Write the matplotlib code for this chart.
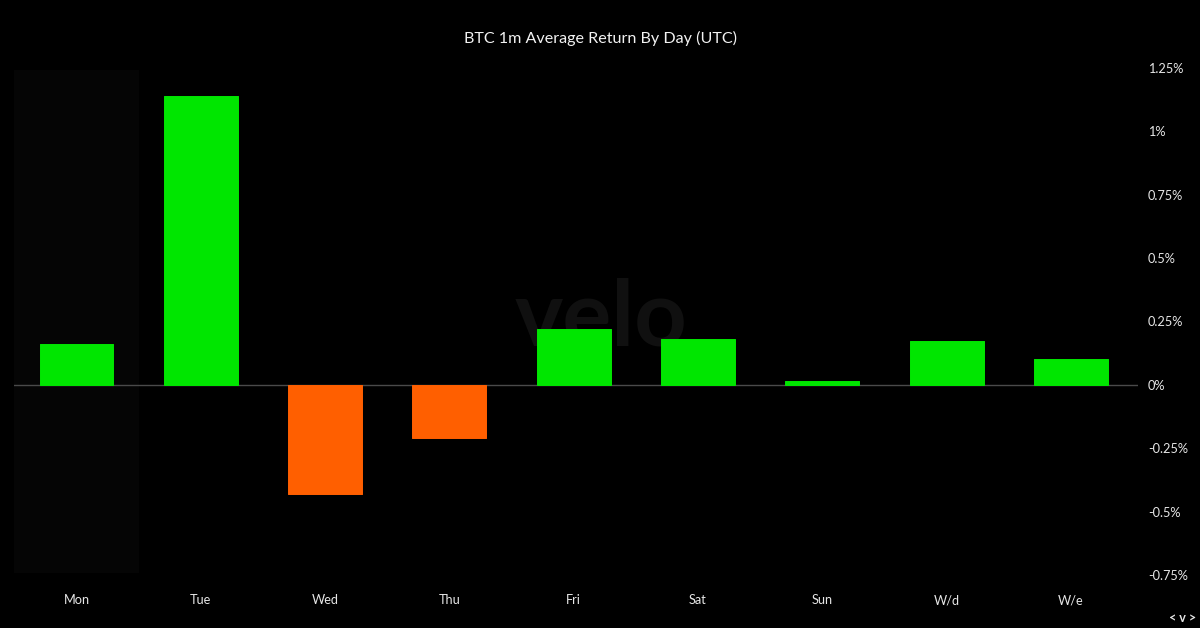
import matplotlib
matplotlib.use("Agg")
import matplotlib.pyplot as plt

plt.rcParams['font.family'] = ['Lato', 'DejaVu Sans']

# values, in percent
days = ['Mon', 'Tue', 'Wed', 'Thu', 'Fri', 'Sat', 'Sun', 'W/d', 'W/e']
returns = [0.162, 1.14, -0.43, -0.209, 0.22, 0.181, 0.016, 0.173, 0.103]
y_ticks = [1.25, 1, 0.75, 0.5, 0.25, 0, -0.25, -0.5, -0.75]
y_labels = ['1.25%', '1%', '0.75%', '0.5%', '0.25%', '0%', '-0.25%', '-0.5%', '-0.75%']

W, H = 1200, 628
green = '#00e600'
orange = '#ff5f00'
text_col = '#e6e6e6'

fig = plt.figure(figsize=(W / 100, H / 100), dpi=100, facecolor='black')
# axes box in pixels: x 14-1138, y 68-575
ax = fig.add_axes([14 / W, 1 - 575 / H, (1138 - 14) / W, (575 - 68) / H], facecolor='black')

# hovered column
ax.axvspan(-0.5, 0.5, ymin=0.003, ymax=0.997, color='#050505', lw=0, zorder=0)

# watermark
ax.text(601 / W, 1 - 319 / H, 'velo', color='#101010', fontsize=66, fontweight='bold',
        ha='center', va='center', zorder=1, transform=fig.transFigure)

colors = [green if v >= 0 else orange for v in returns]
bars = ax.bar(range(len(days)), returns, width=0.595, color=colors, edgecolor=colors,
              linewidth=0.7, zorder=3)
for b in bars:
    b.set_joinstyle('round')

ax.axhline(0, color='#4a4a4a', lw=1, zorder=2)

# the categories stop a little short of the right edge of the plot
ax.set_xlim(-0.503, 8.54)
ax.set_ylim(-0.75, 1.25)
ax.set_xticks(range(len(days)))
ax.set_xticklabels(days, fontsize=9.2, color=text_col)
ax.yaxis.tick_right()
ax.set_yticks(y_ticks)
ax.set_yticklabels(y_labels, fontsize=9.2, color=text_col)
ax.tick_params(axis='both', length=0)
ax.tick_params(axis='x', pad=14)
ax.tick_params(axis='y', pad=7.2)
for s in ax.spines.values():
    s.set_visible(False)

fig.text(600 / W, 1 - 38.5 / H, 'BTC 1m Average Return By Day (UTC)', color='#f2f2f2',
         fontsize=11.6, ha='center', va='center')
fig.text(1182.5 / W, 1 - 617.5 / H, '< v >', color=text_col, fontsize=9, fontweight='bold',
         ha='center', va='center')

fig.savefig('out.png', dpi=100, facecolor='black')
